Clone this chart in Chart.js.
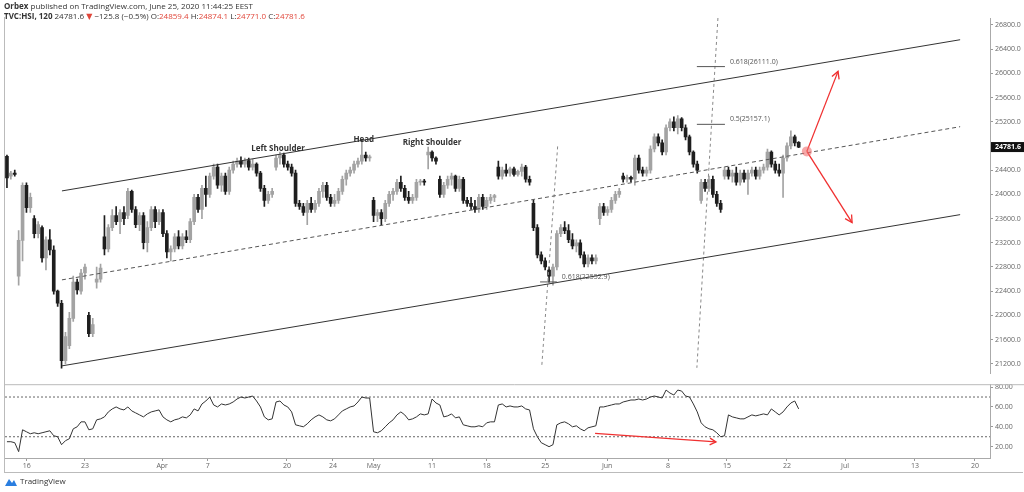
<!DOCTYPE html>
<html><head><meta charset="utf-8">
<script src="https://cdn.jsdelivr.net/npm/chart.js@4.4.1/dist/chart.umd.min.js"></script>
<style>
body{margin:0;background:#fff;width:1024px;height:492px;overflow:hidden;font-family:"Open Sans","DejaVu Sans",sans-serif;position:relative}
#hdr{position:absolute;left:4px;top:1px;font-size:8px;line-height:10px;color:#333;z-index:5}
#hdr b{font-weight:700}
.r{color:#e0463a}
#c1{position:absolute;left:0;top:0}
#c2{position:absolute;left:0;top:378px}
#ft{position:absolute;left:5px;top:475px;font-size:8px;color:#333;display:flex;align-items:center;gap:3px}
#frame{position:absolute;left:4px;top:17px;width:1019px;height:456px;border-left:1px solid #bbb;border-bottom:1px solid #bbb;box-sizing:border-box}
</style></head><body>
<div id="frame"></div>
<canvas id="c1" width="1024" height="380"></canvas>
<canvas id="c2" width="1024" height="100"></canvas>
<div id="hdr"><div><b>Orbex</b> published on TradingView.com, June 25, 2020 11:44:25 EEST</div>
<div><b>TVC:HSI, 120</b> 24781.6 <span class="r">▼</span> −125.8 (−0.5%) O:<span class="r">24859.4</span> H:<span class="r">24874.1</span> L:<span class="r">24771.0</span> C:<span class="r">24781.6</span></div></div>
<div id="ft"><svg width="12" height="10" viewBox="0 0 12 10"><path d="M0 10 L4 3 L7 7 L9 4 L12 10Z" fill="#2a7ee0"/></svg>TradingView</div>
<script>
const candles=[
[24630,24650,24110,24270],[24300,24380,24250,24350],[24350,24400,24300,24330],[22650,23400,22500,23240],[23240,24190,22900,24150],
[24150,24190,23700,23780],[23780,24020,23700,23950],[23600,23650,23280,23350],[23350,23550,23280,23500],[23450,23480,22880,22950],
[22950,23300,22750,23250],[23250,23420,23000,23080],[23080,23150,22350,22400],[22400,22420,22150,22200],[22200,22250,21130,21250],
[21250,21720,21200,21650],[21500,22050,21450,21950],[21950,22650,21900,22550],[22550,22600,22350,22420],[22400,22760,22350,22700],
[22700,22850,22600,22800],[22000,22050,21650,21700],[21700,21950,21650,21850],[22550,22800,22450,22600],[22600,22850,22550,22780],
[23300,23650,23000,23100],[23100,23500,23050,23450],[23450,23750,23400,23650],[23650,23800,23500,23550],[23550,23750,23350,23700],
[23700,23800,23500,23600],[23650,24100,23600,24050],[24050,24070,23700,23750],[23750,23800,23450,23500],[23500,23700,23400,23650],
[23650,23700,23100,23200],[23200,23550,23050,23450],[23450,23800,23400,23750],[23750,23800,23450,23550],[23550,23750,23500,23700],
[23700,23750,23300,23350],[23350,23400,22950,23050],[23050,23150,22900,23100],[23100,23350,23050,23300],[23300,23400,23100,23150],
[23150,23350,23100,23300],[23300,23400,23200,23250],[23250,23600,23200,23550],[23550,24000,23500,23950],[23950,24000,23700,23750],
[23750,24150,23600,24100],[24100,24300,23800,24000],[24000,24350,23950,24300],[24300,24500,24250,24450],[24450,24500,24100,24150],
[24150,24350,24050,24300],[24300,24350,24000,24050],[24050,24450,24000,24400],[24400,24550,24350,24500],[24500,24600,24450,24550],
[24550,24620,24450,24500],[24500,24600,24450,24560],[24560,24600,24400,24450],[24450,24580,24400,24500],[24500,24520,24300,24350],
[24350,24380,24050,24100],[24100,24150,23800,23900],[23900,24050,23850,24000],[24000,24100,23950,24050],[24450,24650,24400,24600],
[24600,24700,24500,24650],[24650,24680,24450,24500],[24500,24550,24400,24450],[24450,24500,24300,24350],[24350,24400,23800,23850],
[23850,23900,23750,23800],[23800,23850,23650,23700],[23700,23900,23500,23850],[23850,23950,23700,23750],[23750,23900,23700,23850],
[23850,24100,23800,24050],[24050,24200,23950,24150],[24150,24200,23900,23950],[23950,24000,23800,23850],[23850,24000,23800,23900],
[23900,24100,23850,24050],[24050,24300,24000,24250],[24250,24400,24150,24350],[24350,24450,24300,24400],[24400,24550,24350,24500],
[24500,24600,24450,24550],[24550,24880,24500,24650],[24650,24700,24550,24600],[24600,24650,24550,24620],[23900,23950,23550,23650],
[23650,23750,23550,23700],[23700,23750,23500,23600],[23600,23900,23550,23850],[23850,24050,23800,24000],[24000,24100,23900,24050],
[24050,24250,24000,24200],[24200,24300,24050,24100],[24100,24150,23900,23950],[23950,24050,23850,23900],[23900,24000,23850,23950],
[23950,24250,23900,24200],[24200,24250,24150,24220],[24220,24250,24150,24200],[24650,24780,24420,24700],[24700,24720,24550,24600],
[24600,24620,24500,24550],[24250,24300,23950,24000],[24000,24200,23950,24150],[24150,24300,24100,24250],[24250,24350,24150,24300],
[24300,24320,24050,24100],[24100,24300,24050,24250],[24250,24280,23850,23900],[23900,23950,23800,23850],[23850,23950,23750,23800],
[23800,23900,23700,23750],[23750,24000,23700,23950],[23950,24000,23750,23800],[23800,23950,23750,23900],[23900,24000,23850,23950],
[23950,24000,23880,23980],[24450,24550,24250,24300],[24300,24450,24250,24400],[24400,24500,24300,24350],[24350,24450,24300,24420],
[24420,24450,24300,24330],[24330,24400,24300,24380],[24380,24500,24300,24450],[24450,24480,24200,24250],[24250,24300,24150,24200],
[23850,23900,23400,23450],[23450,23500,22950,23000],[23000,23050,22850,22900],[22900,22950,22750,22800],[22750,22800,22550,22650],
[22650,22850,22500,22800],[22800,23400,22750,23350],[23350,23500,23300,23450],[23450,23550,23350,23400],[23400,23500,23200,23250],
[23250,23350,23100,23150],[23150,23250,23050,23200],[23200,23250,22950,23000],[23000,23050,22800,22850],[22850,23000,22800,22950],
[22950,23000,22850,22900],[22900,23000,22850,22950],[23600,23850,23500,23800],[23800,23850,23650,23700],[23700,23800,23650,23750],
[23750,23950,23700,23900],[23900,24050,23850,24000],[24000,24100,23950,24050],[24300,24350,24200,24250],[24250,24320,24200,24280],
[24280,24300,24200,24250],[24250,24650,24150,24600],[24600,24650,24350,24400],[24400,24450,24300,24350],[24350,24450,24300,24400],
[24400,24800,24350,24750],[24750,25000,24700,24950],[24950,25000,24800,24850],[24850,24900,24650,24700],[24700,25150,24650,25100],
[25100,25250,25050,25200],[25200,25280,25050,25100],[25100,25300,25000,25250],[25250,25270,25050,25100],[25100,25150,24900,24950],
[24950,24980,24650,24700],[24700,24720,24450,24500],[24500,24550,24350,24400],[23900,24250,23850,24200],[24200,24250,24050,24100],
[24100,24300,24050,24250],[24250,24300,23950,24000],[24000,24050,23800,23850],[23850,23900,23700,23750],[24300,24450,24250,24400],
[24400,24450,24250,24300],[24300,24400,24200,24350],[24350,24450,24150,24200],[24200,24400,24150,24350],[24350,24400,24200,24250],
[24250,24400,24000,24350],[24350,24450,24300,24400],[24400,24450,24250,24300],[24300,24450,24250,24400],[24400,24500,24350,24450],
[24450,24750,24400,24700],[24700,24720,24450,24500],[24500,24550,24350,24400],[24400,24500,24300,24350],[24350,24650,23950,24600],
[24600,24850,24550,24800],[24800,25050,24750,24950],[24950,24980,24800,24850],[24859.4,24874.1,24771,24781.6]];
const rsi=[25,25,24,15,37,35,33,34,33,34, 35,36,31,30,22,26,28,38,40,45, 45,37,38,47,48,50,55,58,60,58,
57,60,56,54,52,50,53,55,56,57, 50,47,45,47,48,50,49,52,58,56, 63,66,70,62,60,63,62,63,65,68,
70,69,70,71,66,60,50,47,48,65, 66,62,60,55,42,41,40,43,47,50, 52,50,47,46,48,52,56,58,60,61,
65,70,69,69,35,34,36,40,44,47, 52,55,52,47,48,50,53,52,53,68, 64,62,50,51,53,49,50,42,41,40,
40,41,40,44,45,45,62,63,60,61, 60,60,61,58,57,38,30,24,22,20, 22,42,44,45,43,40,41,38,36,39,
40,41,60,60,61,62,63,63,65,66, 67,67,68,67,68,70,71,70,69,77, 74,72,77,76,71,70,63,55,44,40,
38,37,34,30,31,52,50,49,48,48, 50,52,51,52,53,52,58,55,52,55, 60,64,66,58];
const dateTickPos=[5.1,20,39.8,51.5,71.8,83.6,94,109,123,138,153.9,169.5,184.6,200,214.9,232.8,248.2];
const dateTickLabels=['16','23','Apr','7','20','24','May','11','18','25','Jun','8','15','22','Jul','13','20'];
const priceTicks=[21200,21600,22000,22400,22800,23200,23600,24000,24400,24800,25200,25600,26000,26400,26800];
const rsiTicks=[20,40,60,80];
const channelUpper=[[14.1,24057],[244.4,26555]];
const channelLower=[[14.1,21166],[244.4,23665]];
const channelMid=[[14.1,22587],[244.4,25118]];
const fibV1=[[141.2,24792],[137.1,21134]];
const fibV2=[[182.3,26914],[176.9,21134]];
const fibLevels=[{x:[176.9,184.1],y:26111.0,t:'0.618(26111.0)'},{x:[176.9,184.1],y:25157.1,t:'0.5(25157.1)'},{x:[136.7,141],y:22552.9,t:'0.618(22552.9)'}];
const patternLabels=[{x:69.5,y:24690,t:'Left Shoulder'},{x:91.5,y:24840,t:'Head'},{x:109,y:24790,t:'Right Shoulder'}];
const arrowUp=[[205.1,24710],[213.1,26032]];
const arrowDown=[[205.1,24710],[216.7,23534]];
const rsiArrow=[[150.8,33.3],[181.8,24.8]];
const lastPrice=24781.6;

const XMIN=-0.5,XMAX=252.06;
const UP='#a3a3a3',DN='#1e1e1e';
const col=c=>c[3]>=c[0]?UP:DN;
const pts=a=>a.map(p=>({x:p[0],y:p[1]}));
const lineDs=(a,color,dash,w)=>({type:'line',data:pts(a),borderColor:color,borderWidth:w||1,borderDash:dash||[],pointRadius:0,fill:false,tension:0});
const yAxisBase=(ticks,fmt)=>({position:'right',afterFit:s=>{s.width=34},
  afterBuildTicks:s=>{s.ticks=ticks.map(v=>({value:v}))},
  grid:{drawOnChartArea:false,drawTicks:true,tickLength:3,color:'#999'},border:{color:'#aaa'},
  ticks:{font:{size:7,family:'Open Sans'},color:'#666',padding:2,callback:fmt}});

function arrowHead(ctx,x1,y1,x2,y2,len){const a=Math.atan2(y2-y1,x2-x1);ctx.beginPath();
 ctx.moveTo(x2-len*Math.cos(a-0.5),y2-len*Math.sin(a-0.5));ctx.lineTo(x2,y2);ctx.lineTo(x2-len*Math.cos(a+0.5),y2-len*Math.sin(a+0.5));ctx.stroke();}

const overlay={id:'ov',afterDatasetsDraw(ch){const ctx=ch.ctx,xs=ch.scales.x,ys=ch.scales.y;
 const X=v=>xs.getPixelForValue(v),Y=v=>ys.getPixelForValue(v);
 ctx.save();
 ctx.font='bold 8px "Open Sans"';ctx.fillStyle='#333';ctx.textAlign='center';ctx.textBaseline='bottom';
 patternLabels.forEach(l=>ctx.fillText(l.t,X(l.x),Y(l.y)));
 ctx.font='7px "Open Sans"';ctx.fillStyle='#555';ctx.textAlign='left';ctx.textBaseline='middle';
 fibLevels.forEach(f=>{ctx.strokeStyle='#555';ctx.lineWidth=1;ctx.beginPath();ctx.moveTo(X(f.x[0]),Y(f.y));ctx.lineTo(X(f.x[1]),Y(f.y));ctx.stroke();
   ctx.fillText(f.t,X(f.x[1])+5,Y(f.y)-5);});
 ctx.strokeStyle='#f03030';ctx.lineWidth=1.3;
 [arrowUp,arrowDown].forEach(a=>{ctx.beginPath();ctx.moveTo(X(a[0][0]),Y(a[0][1]));ctx.lineTo(X(a[1][0]),Y(a[1][1]));ctx.stroke();
   arrowHead(ctx,X(a[0][0]),Y(a[0][1]),X(a[1][0]),Y(a[1][1]),8);});
 ctx.fillStyle='rgba(240,110,110,0.6)';ctx.beginPath();ctx.arc(X(arrowUp[0][0]),Y(arrowUp[0][1]),5,0,Math.PI*2);ctx.fill();
 const yp=Y(lastPrice);ctx.fillStyle='#111';ctx.fillRect(ys.left+1,yp-5,33,10);
 ctx.fillStyle='#fff';ctx.font='bold 7px "Open Sans"';ctx.textAlign='left';ctx.fillText(lastPrice.toFixed(1),ys.left+5,yp);
 ctx.restore();}};

new Chart(document.getElementById('c1'),{type:'bar',
 data:{datasets:[
  {data:candles.map((c,i)=>({x:i,y:[c[2],c[1]]})),backgroundColor:candles.map(col),barThickness:1,grouped:false,order:2},
  {data:candles.map((c,i)=>({x:i,y:[c[0],c[3]]})),backgroundColor:candles.map(col),barThickness:3,grouped:false,order:1},
  lineDs(channelUpper,'#333'),lineDs(channelLower,'#333'),lineDs(channelMid,'#555',[4,3]),
  lineDs(fibV1,'#888',[3,3]),lineDs(fibV2,'#888',[3,3])]},
 options:{animation:false,responsive:false,layout:{padding:{left:5,top:18,bottom:2,right:0}},
  plugins:{legend:{display:false},tooltip:{enabled:false}},
  scales:{x:{type:'linear',min:XMIN,max:XMAX,offset:false,display:false},
   y:Object.assign(yAxisBase(priceTicks,v=>v.toFixed(1)),{min:21035,max:26914})}},
 plugins:[overlay]});

const rsiOv={id:'rov',afterDatasetsDraw(ch){const ctx=ch.ctx,xs=ch.scales.x,ys=ch.scales.y;
 const X=v=>xs.getPixelForValue(v),Y=v=>ys.getPixelForValue(v);ctx.save();
 ctx.strokeStyle='#f03030';ctx.lineWidth=1.3;const a=rsiArrow;
 ctx.beginPath();ctx.moveTo(X(a[0][0]),Y(a[0][1]));ctx.lineTo(X(a[1][0]),Y(a[1][1]));ctx.stroke();
 arrowHead(ctx,X(a[0][0]),Y(a[0][1]),X(a[1][0]),Y(a[1][1]),7);
 ctx.strokeStyle='#bbb';ctx.lineWidth=1;ctx.beginPath();ctx.moveTo(ch.chartArea.left,ch.chartArea.top+0.5);ctx.lineTo(ch.chartArea.right+34,ch.chartArea.top+0.5);ctx.stroke();
 ctx.restore();}};

new Chart(document.getElementById('c2'),{type:'line',
 data:{datasets:[
  {data:rsi.map((v,i)=>({x:i,y:v})),borderColor:'#333',borderWidth:1,pointRadius:0,tension:0},
  lineDs([[XMIN,70],[XMAX,70]],'#666',[2,2]),lineDs([[XMIN,30],[XMAX,30]],'#666',[2,2])]},
 options:{animation:false,responsive:false,layout:{padding:{left:5,top:2,bottom:0,right:0}},
  plugins:{legend:{display:false},tooltip:{enabled:false}},
  scales:{x:{type:'linear',min:XMIN,max:XMAX,afterFit:s=>{s.height=20},
    afterBuildTicks:s=>{s.ticks=dateTickPos.map(v=>({value:v}))},
    grid:{drawOnChartArea:false,tickLength:3,color:'#999'},border:{color:'#aaa'},
    ticks:{font:{size:7,family:'Open Sans'},color:'#666',maxRotation:0,autoSkip:false,padding:1,
      callback:(v,i)=>dateTickLabels[i]}},
   y:Object.assign(yAxisBase(rsiTicks,v=>v.toFixed(2)),{min:8.6,max:82.9})}},
 plugins:[rsiOv]});
</script></body></html>
